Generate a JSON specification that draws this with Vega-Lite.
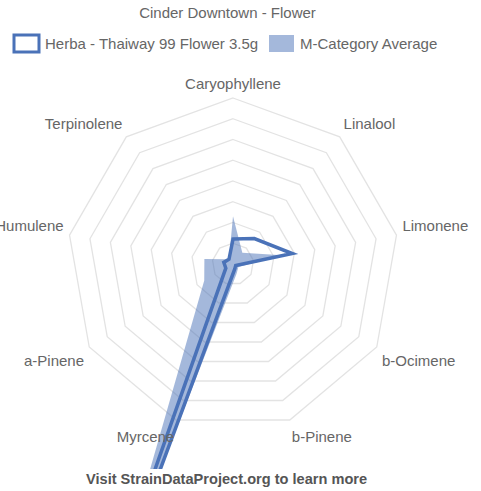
{
  "$schema": "https://vega.github.io/schema/vega-lite/v6.json",
  "autosize": {"type": "pad"},
  "padding": {"left": 0, "right": 0, "top": 6, "bottom": 0},
  "background": "white",
  "config": {"view": {"stroke": null}, "font": "Liberation Sans"},
  "title": {"text": "Cinder Downtown - Flower", "fontSize": 15, "fontWeight": "normal", "color": "#666666", "anchor": "middle", "dx": -13, "offset": 11},
  "datasets": {
    "terp": [
      {"series": "Herba - Thaiway 99 Flower 3.5g", "terpene": "Caryophyllene", "value": 0.12},
      {"series": "Herba - Thaiway 99 Flower 3.5g", "terpene": "Linalool", "value": 0.16},
      {"series": "Herba - Thaiway 99 Flower 3.5g", "terpene": "Limonene", "value": 0.29},
      {"series": "Herba - Thaiway 99 Flower 3.5g", "terpene": "b-Ocimene", "value": 0.015},
      {"series": "Herba - Thaiway 99 Flower 3.5g", "terpene": "b-Pinene", "value": 0.025},
      {"series": "Herba - Thaiway 99 Flower 3.5g", "terpene": "Myrcene", "value": 2.4},
      {"series": "Herba - Thaiway 99 Flower 3.5g", "terpene": "a-Pinene", "value": 0.04},
      {"series": "Herba - Thaiway 99 Flower 3.5g", "terpene": "Humulene", "value": 0.045},
      {"series": "Herba - Thaiway 99 Flower 3.5g", "terpene": "Terpinolene", "value": 0.03},
      {"series": "M-Category Average", "terpene": "Caryophyllene", "value": 0.23},
      {"series": "M-Category Average", "terpene": "Linalool", "value": 0.07},
      {"series": "M-Category Average", "terpene": "Limonene", "value": 0.24},
      {"series": "M-Category Average", "terpene": "b-Ocimene", "value": 0.03},
      {"series": "M-Category Average", "terpene": "b-Pinene", "value": 0.05},
      {"series": "M-Category Average", "terpene": "Myrcene", "value": 1.6},
      {"series": "M-Category Average", "terpene": "a-Pinene", "value": 0.16},
      {"series": "M-Category Average", "terpene": "Humulene", "value": 0.14},
      {"series": "M-Category Average", "terpene": "Terpinolene", "value": 0.03}
    ],
    "rings": [
      {"level": 0.1, "k": [0, 1, 2, 3, 4, 5, 6, 7, 8]},
      {"level": 0.2, "k": [0, 1, 2, 3, 4, 5, 6, 7, 8]},
      {"level": 0.3, "k": [0, 1, 2, 3, 4, 5, 6, 7, 8]},
      {"level": 0.4, "k": [0, 1, 2, 3, 4, 5, 6, 7, 8]},
      {"level": 0.5, "k": [0, 1, 2, 3, 4, 5, 6, 7, 8]},
      {"level": 0.6, "k": [0, 1, 2, 3, 4, 5, 6, 7, 8]},
      {"level": 0.7, "k": [0, 1, 2, 3, 4, 5, 6, 7, 8]},
      {"level": 0.8, "k": [0, 1, 2, 3, 4, 5, 6, 7, 8]}
    ],
    "labels": [
      {"terpene": "Caryophyllene"},
      {"terpene": "Linalool"},
      {"terpene": "Limonene"},
      {"terpene": "b-Ocimene"},
      {"terpene": "b-Pinene"},
      {"terpene": "Myrcene"},
      {"terpene": "a-Pinene"},
      {"terpene": "Humulene"},
      {"terpene": "Terpinolene"}
    ],
    "footer": [
      {"note": "Visit StrainDataProject.org to learn more"}
    ]
  },
  "vconcat": [
    {
      "width": 481,
      "height": 410,
      "encoding": {
        "x": {"field": "x", "type": "quantitative",
          "scale": {"domain": [-1.12289, 1.19518], "nice": false, "zero": false},
          "axis": null},
        "y": {"field": "y", "type": "quantitative",
          "scale": {"domain": [-0.98795, 0.98795], "nice": false, "zero": false},
          "axis": null}
      },
      "layer": [
        {
          "data": {"name": "rings"},
          "transform": [
            {"flatten": ["k"]},
            {"calculate": "datum.k * 2 * PI / 9", "as": "a"},
            {"calculate": "datum.level * sin(datum.a)", "as": "x"},
            {"calculate": "datum.level * cos(datum.a)", "as": "y"}
          ],
          "mark": {"type": "line", "interpolate": "linear-closed", "stroke": "#e3e3e3", "strokeWidth": 1.3},
          "encoding": {"detail": {"field": "level", "type": "nominal"}, "order": {"field": "k", "type": "quantitative"}}
        },
        {
          "data": {"name": "terp"},
          "transform": [
            {"window": [{"op": "row_number", "as": "rn"}], "groupby": ["series"]},
            {"filter": "datum.series === 'M-Category Average'"},
            {"calculate": "(datum.rn - 1) * 2 * PI / 9", "as": "a"},
            {"calculate": "datum.value * sin(datum.a)", "as": "x"},
            {"calculate": "datum.value * cos(datum.a)", "as": "y"}
          ],
          "mark": {"type": "line", "interpolate": "linear-closed", "clip": true, "strokeWidth": 0, "fill": "rgba(74,114,184,0.5)", "stroke": "transparent"},
          "encoding": {
            "order": {"field": "rn", "type": "quantitative"}
          }
        },
        {
          "data": {"name": "terp"},
          "transform": [
            {"window": [{"op": "row_number", "as": "rn"}], "groupby": ["series"]},
            {"filter": "datum.series === 'Herba - Thaiway 99 Flower 3.5g'"},
            {"calculate": "(datum.rn - 1) * 2 * PI / 9", "as": "a"},
            {"calculate": "datum.value * sin(datum.a)", "as": "x"},
            {"calculate": "datum.value * cos(datum.a)", "as": "y"}
          ],
          "mark": {"type": "line", "interpolate": "linear-closed", "clip": true, "strokeWidth": 3.5, "strokeJoin": "miter", "stroke": "#4a72b8", "fill": "transparent"},
          "encoding": {
            "order": {"field": "rn", "type": "quantitative"}
          }
        },
        {
          "data": {"name": "terp"},
          "transform": [
            {"window": [{"op": "row_number", "as": "rn"}], "groupby": ["series"]},
            {"filter": "datum.rn === 1"},
            {"calculate": "0", "as": "x"},
            {"calculate": "0", "as": "y"}
          ],
          "mark": {"type": "point", "opacity": 0, "size": 0},
          "encoding": {
            "fill": {"field": "series", "type": "nominal", "scale": {"domain": ["Herba - Thaiway 99 Flower 3.5g", "M-Category Average"], "range": ["transparent", "rgba(74,114,184,0.5)"]},
              "legend": {"title": null, "orient": "none", "legendX": 15, "legendY": -27, "direction": "horizontal", "symbolType": "M-1.25,-0.85H1.25V0.85H-1.25Z", "symbolSize": 400, "symbolStrokeWidth": 3, "symbolOpacity": 1, "labelFontSize": 15, "labelColor": "#666666", "labelOffset": 7, "columnPadding": 4, "labelLimit": 400}},
            "stroke": {"field": "series", "type": "nominal", "scale": {"domain": ["Herba - Thaiway 99 Flower 3.5g", "M-Category Average"], "range": ["#4a72b8", "transparent"]},
              "legend": {"title": null, "orient": "none", "legendX": 15, "legendY": -27, "direction": "horizontal", "symbolType": "M-1.25,-0.85H1.25V0.85H-1.25Z", "symbolSize": 400, "symbolStrokeWidth": 3, "symbolOpacity": 1, "labelFontSize": 15, "labelColor": "#666666", "labelOffset": 7, "columnPadding": 4, "labelLimit": 400}}
          }
        },
        {
          "data": {"name": "footer"},
          "transform": [
            {"calculate": "0", "as": "x"},
            {"calculate": "0", "as": "y"}
          ],
          "mark": {"type": "point", "size": 0, "filled": true, "fill": "white", "stroke": "white", "strokeWidth": 0},
          "encoding": {
            "shape": {"field": "note", "type": "nominal", "scale": {"range": ["M-1,-0.0437H1V0.0437H-1Z"]},
              "legend": {"title": null, "orient": "none", "legendX": 0, "legendY": 180, "zindex": 5, "symbolSize": 231361, "symbolFillColor": "white", "symbolStrokeColor": "white", "symbolStrokeWidth": 0, "symbolOpacity": 1, "labelFontSize": 14.6, "labelFontWeight": "bold", "labelColor": "#555555", "labelOffset": -395, "labelLimit": 1000}}
          }
        },
        {
          "data": {"name": "labels"},
          "transform": [
            {"window": [{"op": "row_number", "as": "rn"}]},
            {"filter": "datum.rn === 1"},
            {"calculate": "(datum.rn - 1) * 2 * PI / 9", "as": "a"},
            {"calculate": "0.829 * sin(datum.a)", "as": "x"},
            {"calculate": "0.829 * cos(datum.a)", "as": "y"}
          ],
          "mark": {"type": "text", "align": "center", "baseline": "bottom", "fontSize": 15, "color": "#666666", "clip": true},
          "encoding": {"text": {"field": "terpene", "type": "nominal"}}
        },
        {
          "data": {"name": "labels"},
          "transform": [
            {"window": [{"op": "row_number", "as": "rn"}]},
            {"filter": "datum.rn === 2 || datum.rn === 3"},
            {"calculate": "(datum.rn - 1) * 2 * PI / 9", "as": "a"},
            {"calculate": "0.829 * sin(datum.a)", "as": "x"},
            {"calculate": "0.829 * cos(datum.a)", "as": "y"}
          ],
          "mark": {"type": "text", "align": "left", "baseline": "bottom", "fontSize": 15, "color": "#666666", "clip": true},
          "encoding": {"text": {"field": "terpene", "type": "nominal"}}
        },
        {
          "data": {"name": "labels"},
          "transform": [
            {"window": [{"op": "row_number", "as": "rn"}]},
            {"filter": "datum.rn === 4 || datum.rn === 5"},
            {"calculate": "(datum.rn - 1) * 2 * PI / 9", "as": "a"},
            {"calculate": "0.829 * sin(datum.a)", "as": "x"},
            {"calculate": "0.829 * cos(datum.a)", "as": "y"}
          ],
          "mark": {"type": "text", "align": "left", "baseline": "top", "dy": 4, "fontSize": 15, "color": "#666666", "clip": true},
          "encoding": {"text": {"field": "terpene", "type": "nominal"}}
        },
        {
          "data": {"name": "labels"},
          "transform": [
            {"window": [{"op": "row_number", "as": "rn"}]},
            {"filter": "datum.rn === 6 || datum.rn === 7"},
            {"calculate": "(datum.rn - 1) * 2 * PI / 9", "as": "a"},
            {"calculate": "0.829 * sin(datum.a)", "as": "x"},
            {"calculate": "0.829 * cos(datum.a)", "as": "y"}
          ],
          "mark": {"type": "text", "align": "right", "baseline": "top", "dy": 4, "fontSize": 15, "color": "#666666", "clip": true},
          "encoding": {"text": {"field": "terpene", "type": "nominal"}}
        },
        {
          "data": {"name": "labels"},
          "transform": [
            {"window": [{"op": "row_number", "as": "rn"}]},
            {"filter": "datum.rn === 8 || datum.rn === 9"},
            {"calculate": "(datum.rn - 1) * 2 * PI / 9", "as": "a"},
            {"calculate": "0.829 * sin(datum.a)", "as": "x"},
            {"calculate": "0.829 * cos(datum.a)", "as": "y"}
          ],
          "mark": {"type": "text", "align": "right", "baseline": "bottom", "fontSize": 15, "color": "#666666", "clip": true},
          "encoding": {"text": {"field": "terpene", "type": "nominal"}}
        }
      ]
    }
  ]
}
